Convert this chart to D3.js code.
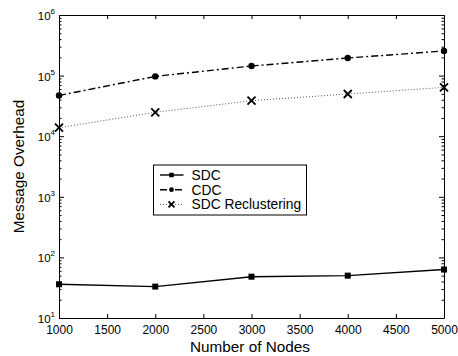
<!DOCTYPE html>
<html>
<head>
<meta charset="utf-8">
<script src="https://cdn.jsdelivr.net/npm/d3@7"></script>
<style>
  body { margin: 0; background: #fff; }
  svg { font-family: "Liberation Sans", Arial, Helvetica, sans-serif; }
  .axis path, .axis line { stroke: #000; }
  .axis text { fill: #000; }
</style>
</head>
<body>
<div id="chart"></div>
<script>
// data
const nodes = [1000, 2000, 3000, 4000, 5000];
const sdc = [36, 33, 48, 50, 63];
const cdc = [47000, 97000, 144000, 195000, 255000];
const sdcRecl = [13800, 24800, 38500, 49700, 64000];
const xTicks = [1000, 1500, 2000, 2500, 3000, 3500, 4000, 4500, 5000];
const yTicks = [10, 100, 1000, 10000, 100000, 1000000];

const W = 458, H = 356;
const margin = {top: 15, right: 14, bottom: 38, left: 59};
const width = W - margin.left - margin.right;
const height = H - margin.top - margin.bottom;

const svg = d3.select('#chart').append('svg')
  .attr('width', W)
  .attr('height', H);

const chart = svg.append('g')
  .attr('transform', `translate(${margin.left}, ${margin.top})`);

const x = d3.scaleLinear().domain([1000, 5000]).range([0, width]);
const y = d3.scaleLog().domain([10, 1e6]).range([height, 0]);

// minor log ticks
const minor = [];
for (let e = 1; e < 6; e++) {
  for (let m = 2; m <= 9; m++) minor.push(m * Math.pow(10, e));
}

// bottom / top axes, ticks pointing inward
chart.append('g')
  .attr('class', 'axis')
  .attr('transform', `translate(0, ${height})`)
  .call(d3.axisBottom(x).tickValues(xTicks).tickSize(-4).tickFormat(d3.format('d')).tickSizeOuter(0))
  .call(g => g.selectAll('text').attr('y', 15.5).attr('dy', 0).attr('font-size', '12px'));
chart.append('g')
  .attr('class', 'axis')
  .call(d3.axisTop(x).tickValues(xTicks).tickSize(-4).tickFormat('').tickSizeOuter(0));

// left / right axes
const yLeft = chart.append('g')
  .attr('class', 'axis')
  .call(d3.axisLeft(y).tickValues(yTicks).tickSize(-5).tickFormat('').tickSizeOuter(0));
yLeft.selectAll('.tick').append('text')
  .attr('x', -4)
  .attr('y', 4.5)
  .attr('text-anchor', 'end')
  .attr('font-size', '11.5px')
  .each(function(d) {
    const t = d3.select(this);
    t.append('tspan').text('10');
    t.append('tspan').attr('dy', -6).attr('font-size', '8px').text(Math.round(Math.log10(d)));
  });
chart.append('g')
  .attr('class', 'axis')
  .call(d3.axisLeft(y).tickValues(minor).tickSize(-2.5).tickFormat('').tickSizeOuter(0))
  .call(g => g.select('.domain').remove());

chart.append('g')
  .attr('class', 'axis')
  .attr('transform', `translate(${width}, 0)`)
  .call(d3.axisRight(y).tickValues(yTicks).tickSize(-5).tickFormat('').tickSizeOuter(0));
chart.append('g')
  .attr('class', 'axis')
  .attr('transform', `translate(${width}, 0)`)
  .call(d3.axisRight(y).tickValues(minor).tickSize(-2.5).tickFormat('').tickSizeOuter(0))
  .call(g => g.select('.domain').remove());

// series
const series = [
  {name: 'SDC', values: sdc, dash: null, marker: 'square', color: '#000', width: 1.4},
  {name: 'CDC', values: cdc, dash: '7,3,2,3', marker: 'circle', color: '#000', width: 1.4},
  {name: 'SDC Reclustering', values: sdcRecl, dash: '1,2', marker: 'cross', color: '#555', width: 1}
];

const line = d3.line().x((d, i) => x(nodes[i])).y(d => y(d));

function drawMarker(g, type, cx, cy, k) {
  if (type === 'square') {
    const s = 3 * k;
    g.append('rect').attr('x', cx - s).attr('y', cy - s).attr('width', 2 * s).attr('height', 2 * s).attr('fill', '#000');
  } else if (type === 'circle') {
    g.append('circle').attr('cx', cx).attr('cy', cy).attr('r', 3.2 * k).attr('fill', '#000');
  } else {
    const s = 4 * k;
    g.append('path')
      .attr('d', `M${cx - s},${cy - s}L${cx + s},${cy + s}M${cx - s},${cy + s}L${cx + s},${cy - s}`)
      .attr('stroke', '#000').attr('stroke-width', 1.8).attr('fill', 'none');
  }
}

series.forEach(s => {
  chart.append('path')
    .datum(s.values)
    .attr('fill', 'none')
    .attr('stroke', s.color)
    .attr('stroke-width', s.width)
    .attr('stroke-dasharray', s.dash)
    .attr('d', line);
  const mg = chart.append('g');
  s.values.forEach((v, i) => drawMarker(mg, s.marker, x(nodes[i]), y(v), 1));
});

// axis titles
svg.append('text')
  .attr('x', 250)
  .attr('y', 352)
  .attr('text-anchor', 'middle')
  .attr('font-size', '15.3px')
  .text('Number of Nodes');
svg.append('text')
  .attr('transform', `translate(24, ${margin.top + height / 2}) rotate(-90)`)
  .attr('text-anchor', 'middle')
  .attr('font-size', '15.3px')
  .text('Message Overhead');

// legend
const legend = svg.append('g').attr('transform', 'translate(153.5, 165)');
legend.append('rect')
  .attr('width', 153).attr('height', 50)
  .attr('fill', '#fff').attr('stroke', '#000').attr('stroke-width', 1);
series.forEach((s, i) => {
  const ly = 10 + i * 14.7;
  legend.append('line')
    .attr('x1', 6.5).attr('x2', 30).attr('y1', ly).attr('y2', ly)
    .attr('stroke', s.color).attr('stroke-width', s.width)
    .attr('stroke-dasharray', s.dash);
  drawMarker(legend, s.marker, 18, ly, 0.75);
  legend.append('text')
    .attr('x', 38).attr('y', ly + 5)
    .attr('font-size', '13.8px')
    .text(s.name);
});
</script>
</body>
</html>
